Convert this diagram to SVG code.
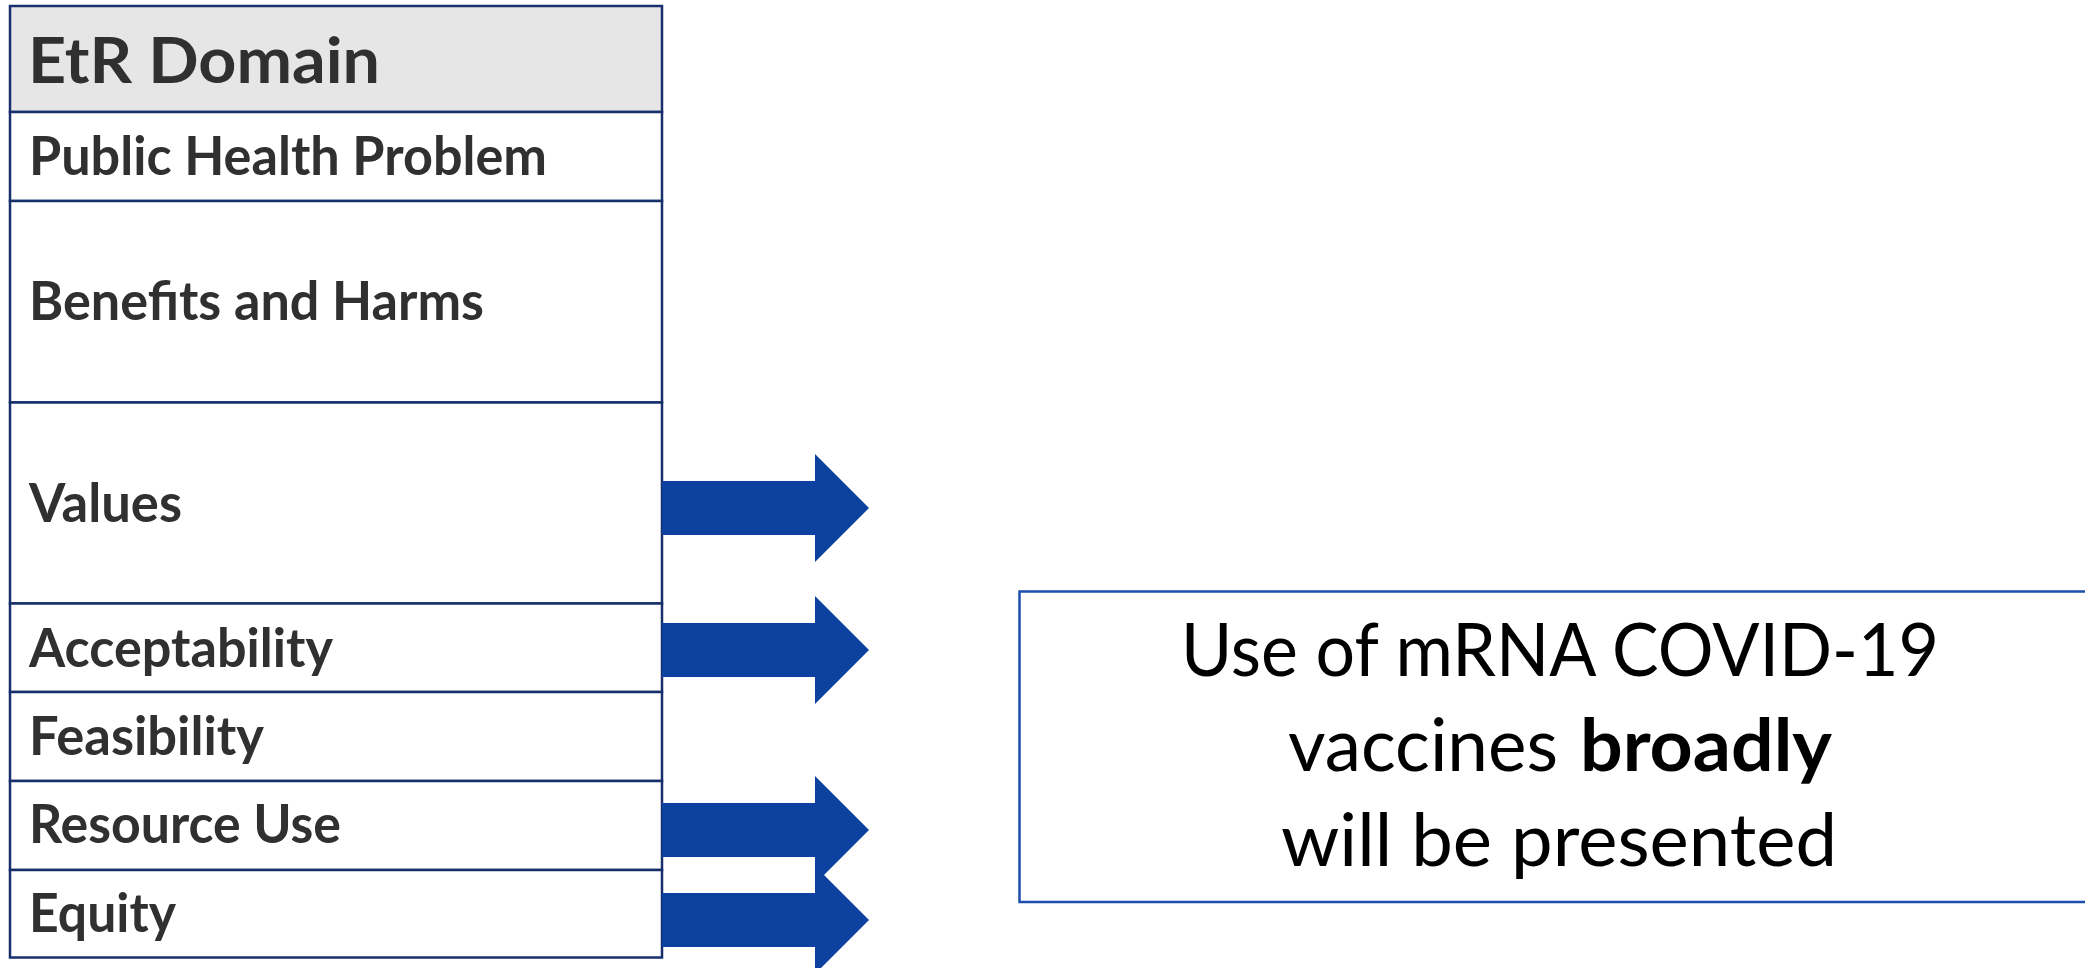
<svg xmlns="http://www.w3.org/2000/svg" width="2085" height="968" viewBox="0 0 2085 968">
  <style>
    .cell { fill: #ffffff; stroke: #172f6b; stroke-width: 2.5; }
    .head { fill: #e6e6e6; stroke: #172f6b; stroke-width: 2.5; }
    .lbl { font-family: Lato, "Open Sans", "Liberation Sans", sans-serif; font-weight: bold; fill: #303030; }
    .hdr { font-size: 64px; }
    .row { font-size: 53px; }
    .arrow { fill: #0d41a0; }
    .box { fill: #ffffff; stroke: #1f4fae; stroke-width: 2.5; }
    .bt { font-family: Lato, "Open Sans", "Liberation Sans", sans-serif; font-size: 73px; fill: #000000; }
  </style>
  <rect width="2085" height="968" fill="#ffffff"/>

  <g id="etr-header">
    <rect class="head" x="10" y="6" width="652" height="106"/>
    <text class="lbl hdr" x="28" y="83" textLength="352" lengthAdjust="spacingAndGlyphs">EtR Domain</text>
  </g>
  <g id="row-public-health">
    <rect class="cell" x="10" y="112" width="652" height="89"/>
    <text class="lbl row" x="29" y="175" textLength="518" lengthAdjust="spacingAndGlyphs">Public Health Problem</text>
  </g>
  <g id="row-benefits">
    <rect class="cell" x="10" y="201" width="652" height="201.5"/>
    <text class="lbl row" x="29" y="320" textLength="455" lengthAdjust="spacingAndGlyphs">Benefits and Harms</text>
  </g>
  <g id="row-values">
    <rect class="cell" x="10" y="402.5" width="652" height="201"/>
    <text class="lbl row" x="29" y="522" textLength="153" lengthAdjust="spacingAndGlyphs">Values</text>
  </g>
  <g id="row-acceptability">
    <rect class="cell" x="10" y="603.5" width="652" height="88.5"/>
    <text class="lbl row" x="29" y="667" textLength="304" lengthAdjust="spacingAndGlyphs">Acceptability</text>
  </g>
  <g id="row-feasibility">
    <rect class="cell" x="10" y="692" width="652" height="89"/>
    <text class="lbl row" x="29" y="755" textLength="235" lengthAdjust="spacingAndGlyphs">Feasibility</text>
  </g>
  <g id="row-resource">
    <rect class="cell" x="10" y="781" width="652" height="89"/>
    <text class="lbl row" x="29" y="843" textLength="312" lengthAdjust="spacingAndGlyphs">Resource Use</text>
  </g>
  <g id="row-equity">
    <rect class="cell" x="10" y="870" width="652" height="87.5"/>
    <text class="lbl row" x="29" y="932" textLength="147" lengthAdjust="spacingAndGlyphs">Equity</text>
  </g>

  <g id="connectors">
    <polygon class="arrow" points="662,481 815,481 815,454 869,508 815,562 815,535 662,535"/>
    <polygon class="arrow" points="662,623 815,623 815,596 869,650 815,704 815,677 662,677"/>
    <polygon class="arrow" points="662,803 815,803 815,776 869,830 815,884 815,857 662,857"/>
    <polygon class="arrow" points="662,893 815,893 815,866 869,920 815,974 815,947 662,947"/>
  </g>

  <g id="recommendation-box">
    <rect class="box" x="1019.5" y="591.5" width="1080" height="310.5"/>
    <text class="bt" x="1181" y="676" textLength="758" lengthAdjust="spacingAndGlyphs">Use of mRNA COVID-19</text>
    <text class="bt" x="1288" y="771" textLength="270" lengthAdjust="spacingAndGlyphs">vaccines</text>
    <text class="bt" x="1580" y="771" font-weight="bold" textLength="252" lengthAdjust="spacingAndGlyphs">broadly</text>
    <text class="bt" x="1281" y="866" textLength="556" lengthAdjust="spacingAndGlyphs">will be presented</text>
  </g>
</svg>
